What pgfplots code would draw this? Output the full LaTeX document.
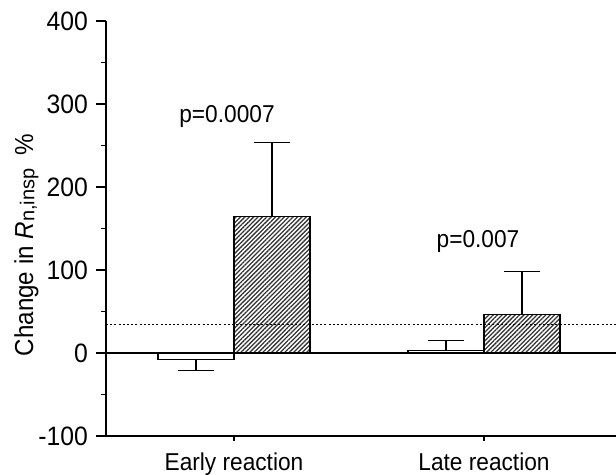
\documentclass[border=0pt]{standalone}
\usepackage{fontspec}
\setmainfont{Liberation Sans}[FakeStretch=0.93]
\newfontfamily\subfont{Liberation Sans}
\usepackage{pgfplots}
\pgfplotsset{compat=1.18}
\usetikzlibrary{patterns,patterns.meta,calc}

\begin{document}
\begin{tikzpicture}[font=\fontsize{12.2}{14}\selectfont]
\begin{axis}[
  name=ax,
  scale only axis,
  width=255pt, height=207.5pt,
  xmin=0.488, xmax=2.528,
  ymin=-100, ymax=400,
  axis lines*=left,
  axis line style={-, line width=0.6pt},
  ytick={-100,0,...,400},
  minor y tick num=1,
  xtick={1,2},
  xticklabels={Early reaction, Late reaction},
  tick align=outside,
  major tick length=5pt,
  minor tick length=2.5pt,
  tick style={line width=0.6pt, black},
  xtick style={/pgfplots/major tick length=2.5pt},
  yticklabel style={font=\fontsize{13.3}{15}\selectfont, xshift=-0.5pt},
  /pgf/number format/assume math mode=true,
  ylabel={\fontsize{13}{15}\selectfont Change in \textit{R}{\subfont\fontsize{10}{11}\selectfont\raisebox{-0.7pt}{n,insp}}\hspace{0.5em}\%},
  ylabel style={at={(axis description cs:-0.143,0.46)}, anchor=base},
  clip=false,
]
% zero reference line
\addplot[black, line width=0.6pt] coordinates {(0.488,0) (2.528,0)};

% open bars
\addplot[ybar, bar width=0.304, bar shift=0, draw=black, fill=white, line width=0.6pt,
  error bars/.cd, y dir=both, y explicit, error mark=|,
  error bar style={line width=0.6pt, black},
  error mark options={mark size=9pt, line width=0.6pt, black}]
  coordinates {(0.848,-8) += (0,0) -= (0,13) (1.848,3) += (0,12) -= (0,0)};

% hatched bars
\addplot[ybar, bar width=0.304, bar shift=0, draw=black, line width=0.6pt,
  pattern={Lines[angle=45, distance=1.55pt, line width=0.65pt]}, pattern color=black!80,
  error bars/.cd, y dir=plus, y explicit, error mark=|,
  error bar style={line width=0.6pt, black},
  error mark options={mark size=9pt, line width=0.6pt, black}]
  coordinates {(1.152,164) +- (0,90) (2.152,46) +- (0,52)};

% dotted threshold line
\addplot[black, line width=0.55pt, dash pattern=on 1pt off 1.1pt] coordinates {(0.488,34) (2.528,34)};

\node[anchor=base] at (axis cs:0.972,278) {p=0.0007};
\node[anchor=base] at (axis cs:1.976,126.5) {p=0.007};
\end{axis}
\pgfresetboundingbox
\path[use as bounding box] ($(ax.south west)+(-53pt,-19.5pt)$) rectangle ($(ax.south west)+(255pt,218pt)$);
\end{tikzpicture}
\end{document}
